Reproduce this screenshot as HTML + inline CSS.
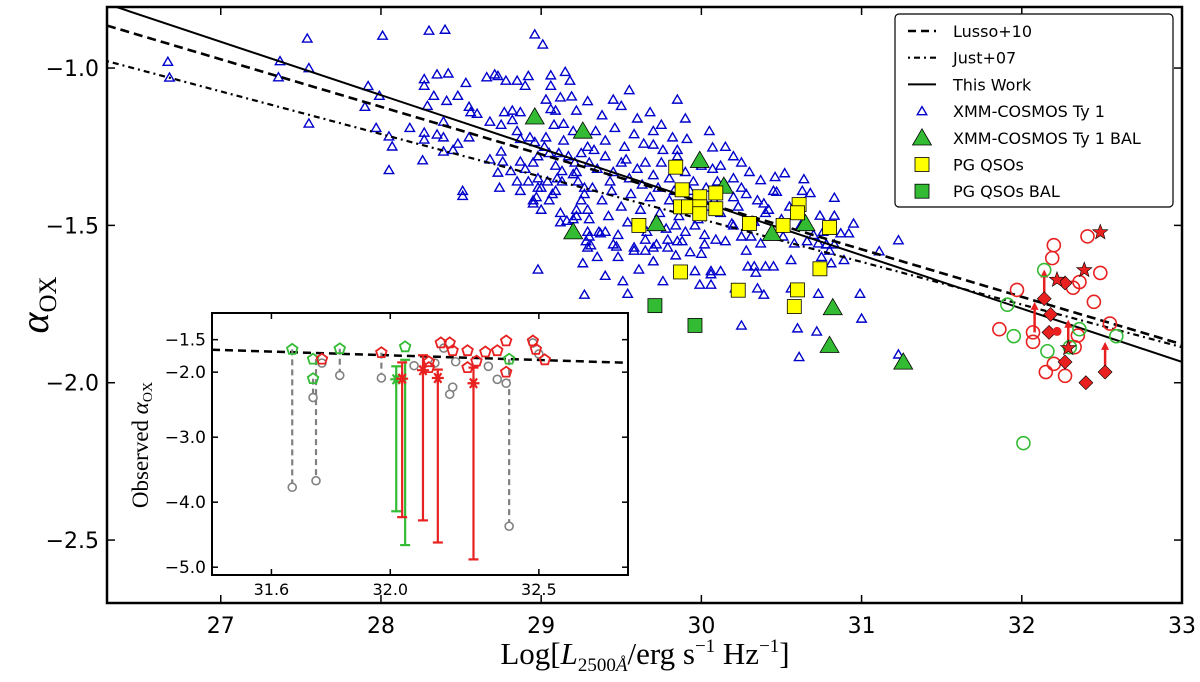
<!DOCTYPE html>
<html><head><meta charset="utf-8"><style>
html,body{margin:0;padding:0;background:#fff;}
svg{display:block;font-family:"DejaVu Sans","Liberation Sans",sans-serif;}
</style></head><body>
<svg id="chart" width="1200" height="682" viewBox="0 0 1200 682" xmlns="http://www.w3.org/2000/svg"></svg>
<script>
// ---------- data (data units) ----------
const xTicks = [27,28,29,30,31,32,33];
const yTicks = [-1.0,-1.5,-2.0,-2.5];
const insetXTicks = [31.6,32.0,32.5];
const insetYTicks = [-1.5,-2.0,-3.0,-4.0,-5.0];
const lussoLine = [[26.29,-0.865],[33,-1.878]];
const justLine = [[26.29,-0.978],[33,-1.887]];
const thisWorkLine = [[26.29,-0.796],[33,-1.934]];
const blueX = [26.67,26.68,27.54,28.01,28.30,28.40,28.96,29.01,27.37,27.36,27.55,27.55,27.92,27.99,27.90,27.97,28.05,28.07,28.05,28.27,28.27,28.35,28.42,28.53,28.33,28.41,28.48,28.29,28.18,28.27,28.27,28.35,28.39,28.39,28.45,28.48,28.26,28.55,28.55,28.56,28.60,28.39,28.51,28.51,28.66,28.71,28.73,28.78,28.85,28.92,28.90,29.06,29.06,29.15,29.18,29.19,29.12,29.03,29.09,29.06,29.22,29.14,29.29,28.77,28.82,28.87,28.68,28.75,28.82,28.85,28.93,28.87,28.96,29.03,28.75,28.68,28.76,28.87,28.73,28.81,28.90,28.98,29.05,29.11,29.17,29.21,29.25,29.29,29.09,29.13,29.20,29.23,29.27,29.13,29.04,28.98,28.92,28.85,28.87,28.98,29.09,29.07,28.97,28.95,28.74,29.27,29.22,29.22,29.20,29.12,29.16,29.29,29.29,29.29,28.98,
30.37,30.46,30.52,30.64,30.68,30.63,30.45,30.47,30.83,30.74,30.83,30.95,30.92,30.87,31.23,31.11,30.89,30.81,30.73,30.78,30.83,30.56,30.51,30.58,30.39,30.42,30.33,30.25,30.31,30.19,30.37,30.29,30.33,30.40,30.45,30.34,30.35,30.39,30.21,30.56,30.73,30.99,31.00,30.25,30.60,30.72,30.61,31.23,30.06,30.12,30.06,29.99,30.06,29.96,29.61,29.70,29.51,29.54,29.76,29.58,29.65,29.47,29.31,29.30,29.37,29.40,29.84,29.93,30.00,29.79,29.88,29.79,29.72,29.65,30.02,30.09,30.20,30.15,30.25,30.28,30.20,30.23,30.07,30.12,30.07,29.70,29.85,29.91,
29.30,29.35,29.40,29.45,29.50,29.55,29.60,29.65,29.70,29.75,29.80,29.85,29.90,29.95,30.00,29.32,29.38,29.44,29.50,29.56,29.62,29.68,29.74,29.80,29.86,29.92,29.98,30.04,29.34,29.40,29.46,29.52,29.58,29.64,29.70,29.76,29.82,29.30,29.36,29.42,29.48,29.54,29.60,29.66,29.72,29.78,29.84,29.90,29.96,30.02,29.33,29.43,29.53,29.63,29.73,29.83,29.93,30.03,30.08,30.12,30.10,29.25,29.28,29.45,29.58,29.70,29.85,29.20,29.14,29.22,29.10,29.05,29.00,28.95,29.12,29.38,29.50,29.60,29.45,29.68,29.55,29.75,29.90,29.85,30.05,30.15,30.20,30.25,30.30,30.35,30.40,30.50,30.55,30.62,30.66,30.70,30.76,30.78,30.80,30.75,30.20,30.15,30.28,29.02,29.08,28.95,29.00,29.26,29.35,29.40,29.48,29.27];
const blueY = [-0.98,-1.03,-0.906,-0.897,-0.881,-0.878,-0.893,-0.925,-0.978,-1.029,-1.0,-1.176,-1.057,-1.088,-1.123,-1.19,-1.217,-1.249,-1.324,-1.035,-1.056,-1.02,-1.017,-1.047,-1.088,-1.104,-1.088,-1.12,-1.19,-1.205,-1.227,-1.211,-1.22,-1.265,-1.26,-1.24,-1.293,-1.22,-1.123,-1.14,-1.145,-1.17,-1.406,-1.39,-1.029,-1.02,-1.025,-1.04,-1.04,-1.025,-1.056,-1.023,-1.056,-1.012,-1.04,-1.09,-1.093,-1.1,-1.135,-1.13,-1.135,-1.177,-1.105,-1.14,-1.135,-1.14,-1.17,-1.18,-1.165,-1.2,-1.22,-1.225,-1.235,-1.22,-1.265,-1.29,-1.297,-1.297,-1.332,-1.327,-1.32,-1.28,-1.27,-1.27,-1.28,-1.3,-1.27,-1.25,-1.31,-1.327,-1.337,-1.36,-1.38,-1.36,-1.36,-1.35,-1.36,-1.36,-1.39,-1.38,-1.39,-1.4,-1.41,-1.42,-1.38,-1.4,-1.45,-1.47,-1.48,-1.49,-1.485,-1.45,-1.52,-1.57,-1.64,
-1.356,-1.346,-1.334,-1.353,-1.397,-1.39,-1.39,-1.393,-1.412,-1.469,-1.469,-1.494,-1.525,-1.525,-1.547,-1.582,-1.61,-1.62,-1.557,-1.56,-1.56,-1.61,-1.535,-1.557,-1.43,-1.45,-1.488,-1.535,-1.535,-1.494,-1.557,-1.63,-1.63,-1.63,-1.63,-1.65,-1.7,-1.72,-1.7,-1.7,-1.717,-1.717,-1.796,-1.818,-1.827,-1.837,-1.918,-1.91,-1.645,-1.645,-1.655,-1.688,-1.688,-1.645,-1.64,-1.614,-1.677,-1.717,-1.677,-1.58,-1.58,-1.567,-1.563,-1.535,-1.525,-1.52,-1.595,-1.585,-1.59,-1.57,-1.55,-1.545,-1.56,-1.545,-1.56,-1.545,-1.35,-1.37,-1.38,-1.4,-1.41,-1.44,-1.252,-1.31,-1.32,-1.243,-1.26,-1.225,
-1.3,-1.32,-1.28,-1.33,-1.3,-1.35,-1.32,-1.3,-1.34,-1.3,-1.35,-1.28,-1.33,-1.36,-1.31,-1.38,-1.42,-1.39,-1.44,-1.4,-1.45,-1.41,-1.46,-1.42,-1.47,-1.43,-1.48,-1.44,-1.2,-1.23,-1.19,-1.25,-1.21,-1.24,-1.2,-1.26,-1.22,-1.48,-1.52,-1.47,-1.53,-1.49,-1.5,-1.52,-1.48,-1.51,-1.5,-1.52,-1.5,-1.53,-1.26,-1.36,-1.29,-1.37,-1.38,-1.39,-1.39,-1.38,-1.42,-1.46,-1.36,-1.42,-1.55,-1.56,-1.57,-1.57,-1.55,-1.2,-1.23,-1.33,-1.35,-1.42,-1.45,-1.43,-1.46,-1.15,-1.12,-1.16,-1.1,-1.14,-1.07,-1.18,-1.16,-1.1,-1.2,-1.25,-1.28,-1.3,-1.33,-1.42,-1.46,-1.48,-1.44,-1.5,-1.55,-1.53,-1.52,-1.56,-1.58,-1.6,-1.5,-1.55,-1.58,-1.25,-1.18,-1.3,-1.38,-1.62,-1.6,-1.66,-1.6,-1.72];
const greenTriX = [28.96,29.26,29.20,29.99,30.14,29.72,30.44,30.65,30.82,30.80,31.26];
const greenTriY = [-1.155,-1.2,-1.52,-1.293,-1.375,-1.494,-1.525,-1.494,-1.761,-1.881,-1.934];
const yellowX = [29.84,29.88,29.99,30.09,29.87,29.92,29.99,29.99,30.09,29.61,30.30,30.51,30.61,30.60,30.80,29.87,30.23,30.74,30.60,30.58];
const yellowY = [-1.315,-1.387,-1.409,-1.397,-1.441,-1.441,-1.441,-1.463,-1.447,-1.5,-1.494,-1.5,-1.434,-1.46,-1.507,-1.648,-1.706,-1.638,-1.705,-1.758];
const greenSqX = [29.71,29.96];
const greenSqY = [-1.755,-1.818];
const redCircX = [32.2,32.19,32.41,32.49,32.36,32.32,32.45,31.97,31.86,32.07,32.07,32.35,32.55,32.2,32.15,32.27,32.33];
const redCircY = [-1.563,-1.604,-1.535,-1.651,-1.68,-1.698,-1.743,-1.705,-1.83,-1.84,-1.87,-1.85,-1.812,-1.94,-1.966,-1.978,-1.887];
const greenCircX = [32.14,31.91,31.95,32.16,32.36,32.59,32.30,32.01];
const greenCircY = [-1.642,-1.752,-1.852,-1.9,-1.83,-1.852,-1.887,-2.192];
const redDiaX = [32.14,32.27,32.18,32.17,32.27,32.52,32.40];
const redDiaY = [-1.733,-1.683,-1.783,-1.84,-1.934,-1.966,-2.0];
const redStarX = [32.49,32.39,32.22,32.29];
const redStarY = [-1.522,-1.642,-1.673,-1.89];
const redDotX = [32.22];
const redDotY = [-1.837];
const arrowX = [32.14,32.08,32.29,32.52];
const arrowFrom = [-1.733,-1.84,-1.88,-1.966];
const arrowTo = [-1.64,-1.743,-1.8,-1.87];
// inset data
const insetLine = [[31.40,-1.655],[32.80,-1.856]];
const dropX = [31.67,31.74,31.75,31.77,31.83,31.97,32.40];
const dropTop = [-1.65,-2.1,-1.8,-1.8,-1.64,-1.7,-1.8];
const dropBot = [-3.77,-2.39,-3.67,-1.86,-2.05,-2.09,-4.37];
const pentGreenX = [31.67,31.74,31.74,31.83,32.05,32.40];
const pentGreenY = [-1.65,-1.8,-2.1,-1.64,-1.61,-1.8];
const pentRedX = [31.77,31.97,32.13,32.13,32.17,32.20,32.21,32.26,32.26,32.29,32.32,32.36,32.39,32.39,32.48,32.49,32.52];
const pentRedY = [-1.8,-1.7,-1.84,-1.93,-1.55,-1.55,-1.67,-1.67,-1.93,-1.83,-1.69,-1.67,-1.52,-2.0,-1.52,-1.65,-1.81];
const grayCircX = [31.67,31.74,31.75,31.77,31.83,31.97,32.40,32.20,32.21,32.36,32.39,32.33,32.18,32.22,32.48,32.50,32.08,32.15];
const grayCircY = [-3.77,-2.39,-3.67,-1.86,-2.05,-2.09,-4.37,-2.34,-2.23,-2.11,-2.17,-1.91,-1.63,-1.84,-1.55,-1.72,-1.9,-1.86];
const errX = [32.02,32.05,32.04,32.11,32.16,32.28];
const errTop = [-1.91,-1.81,-1.85,-1.74,-1.96,-1.93];
const errBot = [-4.14,-4.66,-4.23,-4.28,-4.62,-4.88];
const errColor = ["#33bb33","#33bb33","#e82020","#e82020","#e82020","#e82020"];
const astX = [32.02,32.04,32.11,32.16,32.28];
const astY = [-2.11,-2.1,-1.97,-2.09,-2.17];
const astColor = ["#33bb33","#e82020","#e82020","#e82020","#e82020"];

// ---------- axes ----------
const P = {l:107,r:1182,t:7,b:603};
const X0=26.29, X1=33, Y0=-0.806, Y1=-2.700;
function sx(v){return P.l+(v-X0)/(X1-X0)*(P.r-P.l);}
function sy(v){return P.t+(Y0-v)/(Y0-Y1)*(P.b-P.t);}
const I = {l:212,r:628,t:313,b:575};
const IX0=31.40, IX1=32.80, IY0=-1.09, IY1=-5.12;
function ix(v){return I.l+(v-IX0)/(IX1-IX0)*(I.r-I.l);}
function iy(v){return I.t+(IY0-v)/(IY0-IY1)*(I.b-I.t);}

const svg=document.getElementById('chart');
const NS='http://www.w3.org/2000/svg';
function mk(tag,attrs,parent){const e=document.createElementNS(NS,tag);for(const k in attrs)e.setAttribute(k,attrs[k]);(parent||svg).appendChild(e);return e;}
function fmt(v,d){return (v<0?'\u2212':'')+Math.abs(v).toFixed(d);}

const defs=mk('defs',{});
const cp=mk('clipPath',{id:'mainclip'},defs);
mk('rect',{x:P.l,y:P.t,width:P.r-P.l,height:P.b-P.t},cp);
const cp2=mk('clipPath',{id:'insetclip'},defs);
mk('rect',{x:I.l,y:I.t,width:I.r-I.l,height:I.b-I.t},cp2);

const main=mk('g',{'clip-path':'url(#mainclip)'});



function tri(g,x,y,s,fill,stroke,sw){
  return mk('polygon',{points:`${x},${y-s} ${x-s*1.05},${y+s*0.8} ${x+s*1.05},${y+s*0.8}`,fill:fill,stroke:stroke,'stroke-width':sw},g);
}
const gBlue=mk('g',{},main);


for(let i=0;i<blueX.length;i++){
  const e=tri(gBlue,sx(blueX[i]),sy(blueY[i]),4.5,'none','#0000cc',1.4);
  
  
}
function line(pts,dash,w,name){
  const e=mk('line',{x1:sx(pts[0][0]),y1:sy(pts[0][1]),x2:sx(pts[1][0]),y2:sy(pts[1][1]),stroke:'#000','stroke-width':w,'stroke-dasharray':dash},main);
  
  
}
line(justLine,'2 4 6 4',2.2,'just07-line');
line(lussoLine,'9 5',2.6,'lusso10-line');
line(thisWorkLine,'none',2,'this-work-line');
for(let i=0;i<greenTriX.length;i++){
  const e=tri(main,sx(greenTriX[i]),sy(greenTriY[i]),9,'#33bb33','#000',0.8);
  
  
}
for(let i=0;i<yellowX.length;i++){
  const e=mk('rect',{x:sx(yellowX[i])-7,y:sy(yellowY[i])-7,width:14,height:14,fill:'#ffff00',stroke:'#000','stroke-width':0.8},main);
  
  
}
for(let i=0;i<greenSqX.length;i++){
  const e=mk('rect',{x:sx(greenSqX[i])-7,y:sy(greenSqY[i])-7,width:14,height:14,fill:'#33bb33',stroke:'#000','stroke-width':0.8},main);
  
  
}
for(let i=0;i<arrowX.length;i++){
  const x=sx(arrowX[i]),y1=sy(arrowFrom[i]),y2=sy(arrowTo[i]);
  const e=mk('line',{x1:x,y1:y1,x2:x,y2:y2+5,stroke:'#e82020','stroke-width':2.5},main);
  
  
  const h=mk('polygon',{points:`${x},${y2} ${x-4},${y2+8} ${x+4},${y2+8}`,fill:'#e82020'},main);
  
  
}
for(let i=0;i<redCircX.length;i++){
  const e=mk('circle',{cx:sx(redCircX[i]),cy:sy(redCircY[i]),r:6.5,fill:'none',stroke:'#e82020','stroke-width':1.6},main);
  
  
}
for(let i=0;i<greenCircX.length;i++){
  const e=mk('circle',{cx:sx(greenCircX[i]),cy:sy(greenCircY[i]),r:6.5,fill:'none',stroke:'#33bb33','stroke-width':1.6},main);
  
  
}
for(let i=0;i<redDiaX.length;i++){
  const x=sx(redDiaX[i]),y=sy(redDiaY[i]),s=7;
  const e=mk('polygon',{points:`${x},${y-s} ${x+s},${y} ${x},${y+s} ${x-s},${y}`,fill:'#e82020',stroke:'#000','stroke-width':0.6},main);
  
  
}
function starPts(x,y,R){let p=[];for(let k=0;k<10;k++){const r=k%2?R*0.42:R;const a=-Math.PI/2+k*Math.PI/5;p.push((x+r*Math.cos(a)).toFixed(1)+','+(y+r*Math.sin(a)).toFixed(1));}return p.join(' ');}
for(let i=0;i<redStarX.length;i++){
  const e=mk('polygon',{points:starPts(sx(redStarX[i]),sy(redStarY[i]),8),fill:'#e82020',stroke:'#000','stroke-width':0.6},main);
  
  
}
for(let i=0;i<redDotX.length;i++){
  const e=mk('circle',{cx:sx(redDotX[i]),cy:sy(redDotY[i]),r:4.5,fill:'#e82020'},main);
  
  
}

const frame=mk('rect',{x:P.l,y:P.t,width:P.r-P.l,height:P.b-P.t,fill:'none',stroke:'#000','stroke-width':2.5});


xTicks.forEach(v=>{
  const x=sx(v);
  mk('line',{x1:x,y1:P.b,x2:x,y2:P.b-8,stroke:'#000','stroke-width':1.5});
  mk('line',{x1:x,y1:P.t,x2:x,y2:P.t+8,stroke:'#000','stroke-width':1.5});
  const t=mk('text',{x:x,y:P.b+30,'text-anchor':'middle','font-size':22},svg);
  t.textContent=String(v);
  
  
});
yTicks.forEach(v=>{
  const y=sy(v);
  mk('line',{x1:P.l,y1:y,x2:P.l+8,y2:y,stroke:'#000','stroke-width':1.5});
  mk('line',{x1:P.r,y1:y,x2:P.r-8,y2:y,stroke:'#000','stroke-width':1.5});
  const t=mk('text',{x:P.l-8,y:y+8,'text-anchor':'end','font-size':22},svg);
  t.textContent=fmt(v,1);
  
  
});

const yt=mk('text',{x:0,y:0,transform:'translate(48,305) rotate(-90)','text-anchor':'middle','font-size':40,'font-family':'"Liberation Serif",serif'});
yt.innerHTML='<tspan font-style="italic">α</tspan><tspan font-size="25" dy="8">OX</tspan>';


const xt=mk('text',{x:645,y:664,'text-anchor':'middle','font-size':31,'font-family':'"Liberation Serif",serif'});
xt.innerHTML='Log[<tspan font-style="italic">L</tspan><tspan font-size="19" dy="7">2500<tspan font-style="italic">Å</tspan></tspan><tspan dy="-7">/erg s</tspan><tspan font-size="19" dy="-12">−1</tspan><tspan dy="12"> Hz</tspan><tspan font-size="19" dy="-12">−1</tspan><tspan dy="12">]</tspan>';



const lg=mk('g',{});


mk('rect',{x:895,y:14,width:278,height:193,rx:4,fill:'#fff',stroke:'#000','stroke-width':1.2},lg);
const legRows=['Lusso+10','Just+07','This Work','XMM-COSMOS Ty 1','XMM-COSMOS Ty 1 BAL','PG QSOs','PG QSOs BAL'];
legRows.forEach((lab,k)=>{
  const y=31+k*26.7;
  const sym=922;
  if(k===0) mk('line',{x1:908,y1:y,x2:936,y2:y,stroke:'#000','stroke-width':2.6,'stroke-dasharray':'8 5'},lg);
  if(k===1) mk('line',{x1:908,y1:y,x2:936,y2:y,stroke:'#000','stroke-width':2.2,'stroke-dasharray':'2 4 6 4'},lg);
  if(k===2) mk('line',{x1:908,y1:y,x2:936,y2:y,stroke:'#000','stroke-width':2},lg);
  if(k===3) tri(lg,sym,y,4.5,'none','#0000cc',1.4);
  if(k===4) tri(lg,sym,y,9,'#33bb33','#000',0.8);
  if(k===5) mk('rect',{x:sym-7,y:y-7,width:14,height:14,fill:'#ffff00',stroke:'#000','stroke-width':0.8},lg);
  if(k===6) mk('rect',{x:sym-7,y:y-7,width:14,height:14,fill:'#33bb33',stroke:'#000','stroke-width':0.8},lg);
  const t=mk('text',{x:953,y:y+6,'font-size':16},lg);
  t.textContent=lab;
  
  
});

// ---------- inset ----------
const ig=mk('g',{});


mk('rect',{x:I.l,y:I.t,width:I.r-I.l,height:I.b-I.t,fill:'#fff'},ig);
const ic=mk('g',{'clip-path':'url(#insetclip)'},ig);
const il=mk('line',{x1:ix(insetLine[0][0]),y1:iy(insetLine[0][1]),x2:ix(insetLine[1][0]),y2:iy(insetLine[1][1]),stroke:'#000','stroke-width':2.5,'stroke-dasharray':'8 5'},ic);


for(let i=0;i<dropX.length;i++){
  const e=mk('line',{x1:ix(dropX[i]),y1:iy(dropTop[i]),x2:ix(dropX[i]),y2:iy(dropBot[i]),stroke:'#808080','stroke-width':2.2,'stroke-dasharray':'6 4'},ic);
  
  
}
for(let i=0;i<grayCircX.length;i++){
  const e=mk('circle',{cx:ix(grayCircX[i]),cy:iy(grayCircY[i]),r:4,fill:'#fff',stroke:'#808080','stroke-width':1.6},ic);
  
  
}
function pent(g,x,y,r,col){let p=[];for(let k=0;k<5;k++){const a=-Math.PI/2+k*2*Math.PI/5;p.push((x+r*Math.cos(a)).toFixed(1)+','+(y+r*Math.sin(a)).toFixed(1));}return mk('polygon',{points:p.join(' '),fill:'none',stroke:col,'stroke-width':1.8},g);}
for(let i=0;i<pentGreenX.length;i++){
  const e=pent(ic,ix(pentGreenX[i]),iy(pentGreenY[i]),5.5,'#33bb33');
  
  
}
for(let i=0;i<pentRedX.length;i++){
  const e=pent(ic,ix(pentRedX[i]),iy(pentRedY[i]),5.5,'#e82020');
  
  
}
for(let i=0;i<errX.length;i++){
  const x=ix(errX[i]);
  const e=mk('line',{x1:x,y1:iy(errTop[i]),x2:x,y2:iy(errBot[i]),stroke:errColor[i],'stroke-width':2.2},ic);
  
  
  mk('line',{x1:x-5,y1:iy(errTop[i]),x2:x+5,y2:iy(errTop[i]),stroke:errColor[i],'stroke-width':2.2},ic);
  mk('line',{x1:x-5,y1:iy(errBot[i]),x2:x+5,y2:iy(errBot[i]),stroke:errColor[i],'stroke-width':2.2},ic);
}
for(let i=0;i<astX.length;i++){
  const x=ix(astX[i]),y=iy(astY[i]),s=6;
  const a=mk('path',{d:`M${x-s},${y}H${x+s}M${x-s*0.6},${y-s*0.8}L${x+s*0.6},${y+s*0.8}M${x-s*0.6},${y+s*0.8}L${x+s*0.6},${y-s*0.8}M${x},${y-s}V${y+s}`,stroke:astColor[i],'stroke-width':2.2},ic);
  
  
}
mk('rect',{x:I.l,y:I.t,width:I.r-I.l,height:I.b-I.t,fill:'none',stroke:'#000','stroke-width':2},ig);
insetXTicks.forEach(v=>{
  const x=ix(v);
  mk('line',{x1:x,y1:I.b,x2:x,y2:I.b-6,stroke:'#000','stroke-width':1.5},ig);
  mk('line',{x1:x,y1:I.t,x2:x,y2:I.t+6,stroke:'#000','stroke-width':1.5},ig);
  const t=mk('text',{x:x,y:I.b+20,'text-anchor':'middle','font-size':16},ig);
  t.textContent=v.toFixed(1);
  
  
});
insetYTicks.forEach(v=>{
  const y=iy(v);
  mk('line',{x1:I.l,y1:y,x2:I.l+6,y2:y,stroke:'#000','stroke-width':1.5},ig);
  mk('line',{x1:I.r,y1:y,x2:I.r-6,y2:y,stroke:'#000','stroke-width':1.5},ig);
  const t=mk('text',{x:I.l-6,y:y+6,'text-anchor':'end','font-size':17},ig);
  t.textContent=fmt(v,1);
  
  
});
const iyt=mk('text',{x:0,y:0,transform:'translate(148,445) rotate(-90)','text-anchor':'middle','font-size':23,'font-family':'"Liberation Serif",serif'},ig);
iyt.innerHTML='Observed <tspan font-style="italic">α</tspan><tspan font-size="14" dy="4">OX</tspan>';


</script>
</body></html>
